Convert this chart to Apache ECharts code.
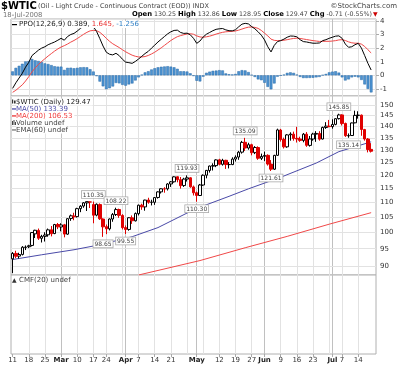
<!DOCTYPE html>
<html>
<head>
<meta charset="utf-8">
<script src="https://cdn.jsdelivr.net/npm/echarts@6.0.0/dist/echarts.min.js"></script>
<style>html,body{margin:0;padding:0;background:#fff;}#chart{width:400px;height:365px;}</style>
</head>
<body>
<div id="chart"></div>
<script>
const dates = ['2008-02-11','2008-02-12','2008-02-13','2008-02-14','2008-02-15','2008-02-18','2008-02-19','2008-02-20','2008-02-21','2008-02-22','2008-02-25','2008-02-26','2008-02-27','2008-02-28','2008-02-29',
'2008-03-03','2008-03-04','2008-03-05','2008-03-06','2008-03-07','2008-03-10','2008-03-11','2008-03-12','2008-03-13','2008-03-14','2008-03-17','2008-03-18','2008-03-19','2008-03-20','2008-03-24','2008-03-25','2008-03-26','2008-03-27','2008-03-28','2008-03-31',
'2008-04-01','2008-04-02','2008-04-03','2008-04-04','2008-04-07','2008-04-08','2008-04-09','2008-04-10','2008-04-11','2008-04-14','2008-04-15','2008-04-16','2008-04-17','2008-04-18','2008-04-21','2008-04-22','2008-04-23','2008-04-24','2008-04-25','2008-04-28','2008-04-29','2008-04-30',
'2008-05-01','2008-05-02','2008-05-05','2008-05-06','2008-05-07','2008-05-08','2008-05-09','2008-05-12','2008-05-13','2008-05-14','2008-05-15','2008-05-16','2008-05-19','2008-05-20','2008-05-21','2008-05-22','2008-05-23','2008-05-27','2008-05-28','2008-05-29','2008-05-30',
'2008-06-02','2008-06-03','2008-06-04','2008-06-05','2008-06-06','2008-06-09','2008-06-10','2008-06-11','2008-06-12','2008-06-13','2008-06-16','2008-06-17','2008-06-18','2008-06-19','2008-06-20','2008-06-23','2008-06-24','2008-06-25','2008-06-26','2008-06-27','2008-06-30',
'2008-07-01','2008-07-02','2008-07-03','2008-07-07','2008-07-08','2008-07-09','2008-07-10','2008-07-11','2008-07-14','2008-07-15','2008-07-16','2008-07-17','2008-07-18'];

const opens = [92.0,93.6,92.8,93.3,95.4,95.6,96.0,99.6,100.7,98.2,98.8,99.3,100.9,99.7,102.6,
101.8,102.5,99.5,104.6,105.4,105.2,107.9,108.8,109.9,110.2,109.3,105.7,109.3,104.4,101.9,101.2,104.4,105.9,107.6,105.6,
101.6,101.0,104.8,103.8,106.2,109.1,108.5,110.9,110.1,110.1,111.8,113.8,114.9,114.9,116.7,117.5,119.4,118.3,116.1,118.5,119.0,115.6,
113.5,112.5,116.3,120.0,121.8,123.5,123.7,126.0,124.2,125.8,124.1,124.1,126.3,127.1,129.1,133.2,130.8,132.2,128.9,131.0,126.6,
127.4,127.8,124.3,122.3,127.8,138.5,134.4,131.3,136.4,136.7,134.9,134.6,134.0,136.7,131.9,134.6,136.7,137.0,134.6,139.6,140.2,
140.0,141.0,143.6,145.3,141.4,136.0,136.1,141.7,145.1,145.2,138.7,134.6,130.25];
const highs = [94.0,94.4,93.8,95.8,96.0,96.2,100.1,100.9,101.3,99.3,100.1,101.3,102.1,102.8,103.1,
103.0,102.8,104.6,105.9,106.5,108.2,109.1,110.2,110.33,110.3,110.35,109.7,109.7,104.6,102.6,104.6,106.4,108.22,107.9,106.0,
102.3,105.0,105.6,106.6,109.3,109.6,111.0,111.7,111.0,111.9,114.0,115.1,115.5,117.0,117.8,119.6,119.5,119.3,119.0,119.93,119.2,116.1,
113.9,116.7,120.3,122.0,123.7,124.6,126.2,126.4,126.4,126.0,125.1,127.0,127.8,129.6,133.8,135.09,133.0,132.6,131.6,131.5,128.5,
129.3,128.2,125.9,128.0,139.1,139.0,135.2,136.7,137.5,137.8,139.9,135.6,137.2,137.6,135.9,137.3,138.0,138.0,140.0,142.0,143.0,
143.3,143.8,145.85,145.6,141.8,137.0,141.8,147.27,147.0,145.5,139.0,135.0,132.86];
const lows = [87.9,92.2,92.1,93.0,94.6,95.2,95.7,98.3,97.7,96.9,97.2,98.7,98.8,99.5,101.1,
100.4,98.5,99.3,103.8,104.0,104.9,106.7,108.2,107.1,108.1,103.0,105.3,104.1,98.65,99.5,100.7,103.5,105.4,104.8,101.0,
99.55,100.6,102.8,103.6,105.6,107.5,107.2,109.6,109.0,109.2,111.4,113.2,113.5,114.3,115.6,117.2,117.3,115.0,115.6,117.6,115.3,112.5,
110.3,112.3,116.0,118.8,121.0,121.8,123.1,123.8,123.7,122.4,122.6,123.9,125.3,126.0,128.5,129.6,130.1,127.8,128.3,126.0,125.9,
125.5,123.7,121.61,122.0,127.6,133.5,130.6,130.9,133.9,133.9,133.1,133.4,133.2,131.3,131.4,133.9,133.4,133.9,134.4,139.0,139.7,
139.1,140.6,143.2,140.5,135.5,135.14,135.9,141.5,143.6,136.0,133.9,129.0,128.95];
const closes = [93.59,92.78,93.27,95.46,95.50,95.90,100.01,100.74,98.23,98.81,99.23,100.88,99.64,102.59,101.84,
102.45,99.52,104.52,105.47,105.15,107.90,108.75,109.92,110.33,110.21,105.68,109.42,104.48,101.84,101.22,104.41,105.90,107.58,105.62,101.58,
100.98,104.83,103.83,106.23,109.09,108.50,110.87,110.11,110.14,111.76,113.79,114.93,114.86,116.69,117.48,119.37,118.30,116.06,118.52,119.00,115.63,113.46,
112.52,116.32,119.97,121.84,123.53,123.69,125.96,124.23,125.80,124.12,124.12,126.29,127.05,129.07,133.17,130.81,132.19,128.85,131.03,126.62,127.35,
127.76,124.31,122.30,127.79,138.54,134.35,131.31,136.38,136.74,134.86,134.61,134.01,136.68,131.93,134.62,136.74,137.00,134.55,139.64,140.21,140.00,
140.97,143.57,145.29,141.37,136.04,136.05,141.65,145.08,145.18,138.74,134.60,130.18,129.47];

const ma50Idx = [0,9,19,27,37,45,54,58,67,73,83,94,101,111];
const ma50Val = [91.8,93.2,94.7,96.2,98.7,101.6,106.4,108.4,112.2,114.9,119.2,124.7,129.3,133.39];
const ma200Idx = [39,58,72,85,98,111];
const ma200Val = [87.4,91.5,95.3,98.8,102.7,106.53];

const annDates = ['2008-03-17','2008-03-20','2008-03-27','2008-04-01','2008-04-28','2008-05-01','2008-05-22','2008-06-04','2008-07-03','2008-07-09'];
const annValues = [110.35,98.65,108.22,99.55,119.93,110.30,135.09,121.61,145.85,135.14];
const annSides = ['high','low','high','low','high','low','high','low','high','low'];

const ppo = [-0.96,-0.55,-0.2,0.15,0.6,0.95,1.45,1.65,1.85,2.0,2.1,2.25,2.35,2.45,2.58,
2.72,2.58,2.85,3.0,3.08,3.25,3.45,3.62,3.75,3.72,3.58,3.22,2.7,2.15,1.7,1.55,1.5,1.62,1.45,1.18,
0.97,0.93,0.88,1.02,1.2,1.4,1.6,1.76,2.0,2.22,2.45,2.65,2.85,3.05,3.2,3.3,3.32,3.15,3.08,3.1,2.98,2.72,
2.35,2.52,2.82,3.02,3.15,3.28,3.38,3.42,3.44,3.34,3.28,3.27,3.35,3.57,3.76,3.82,3.78,3.58,3.42,3.2,2.95,
2.6,2.1,1.72,2.2,2.48,2.55,2.66,2.8,2.89,2.88,2.83,2.62,2.48,2.45,2.4,2.36,2.36,2.38,2.55,2.62,2.72,
2.8,2.88,2.9,2.72,2.3,2.06,2.1,2.25,2.35,2.0,1.45,0.88,0.389];
const ppoSignal = [-1.25,-1.1,-0.9,-0.7,-0.42,-0.1,0.25,0.55,0.8,1.02,1.22,1.42,1.6,1.78,1.94,
2.08,2.18,2.3,2.44,2.56,2.7,2.86,3.02,3.16,3.27,3.3,3.28,3.16,2.96,2.72,2.5,2.32,2.18,2.04,1.88,
1.73,1.6,1.48,1.4,1.35,1.35,1.38,1.46,1.57,1.7,1.86,2.02,2.2,2.38,2.56,2.71,2.84,2.92,2.98,3.04,3.06,3.02,
2.9,2.82,2.8,2.83,2.88,2.95,3.03,3.1,3.16,3.2,3.22,3.23,3.26,3.32,3.4,3.48,3.54,3.55,3.52,3.45,3.3,
3.1,2.9,2.66,2.57,2.55,2.56,2.58,2.62,2.67,2.71,2.73,2.71,2.67,2.63,2.59,2.55,2.52,2.49,2.5,2.5,2.5,
2.52,2.55,2.6,2.62,2.56,2.46,2.39,2.36,2.36,2.29,2.12,1.88,1.645];
const ppoHist = [0.29,0.55,0.7,0.85,1.02,1.05,1.2,1.1,1.05,0.98,0.88,0.83,0.75,0.67,0.64,
0.64,0.4,0.55,0.56,0.52,0.55,0.59,0.6,0.59,0.45,0.28,-0.06,-0.46,-0.81,-1.02,-0.95,-0.82,-0.56,-0.59,-0.7,
-0.76,-0.67,-0.6,-0.38,-0.15,0.05,0.22,0.3,0.43,0.52,0.59,0.63,0.65,0.67,0.64,0.59,0.48,0.3,0.3,0.28,0.15,-0.05,
-0.4,-0.45,-0.1,0.19,0.27,0.33,0.35,0.38,0.36,0.14,0.08,0.06,0.1,0.3,0.38,0.36,0.24,0.03,-0.12,-0.3,-0.36,
-0.55,-0.85,-1.03,-0.6,-0.1,-0.02,0.05,0.18,0.22,0.18,0.05,-0.12,-0.2,-0.2,-0.19,-0.18,-0.15,-0.12,0.02,0.1,0.22,
0.27,0.3,0.2,-0.15,-0.38,-0.3,-0.15,-0.1,-0.15,-0.34,-0.67,-1.0,-1.256];

const priceTicks = [90,95,100,105,110,115,120,125,130,135,140,145,150];
const tickDates = ['2008-02-11','2008-02-18','2008-02-25','2008-03-03','2008-03-10','2008-03-17','2008-03-24','2008-04-01','2008-04-07','2008-04-14','2008-04-21','2008-05-01','2008-05-12','2008-05-19','2008-05-27','2008-06-02','2008-06-09','2008-06-16','2008-06-23','2008-07-01','2008-07-07','2008-07-14'];
const tickTexts = ['11','18','25','Mar','10','17','24','Apr','7','14','21','May','12','19','27','Jun','9','16','23','Jul','7','14'];
const weekLineDates = ['2008-02-18','2008-02-25','2008-03-10','2008-03-17','2008-03-24','2008-03-31','2008-04-07','2008-04-14','2008-04-21','2008-04-28','2008-05-05','2008-05-12','2008-05-19','2008-05-27','2008-06-09','2008-06-16','2008-06-23','2008-06-30','2008-07-07','2008-07-14'];
const monthLineDates = ['2008-03-03','2008-04-01','2008-05-01','2008-06-02','2008-07-01'];
const monthNames = ['Mar','Apr','May','Jun','Jul'];

// ---------- build ----------
const N = dates.length;
const cats = dates.concat(['']);
const weekSet = new Set(weekLineDates), monthSet = new Set(monthLineDates);
const labelMap = {}; tickDates.forEach((d, i) => labelMap[d] = tickTexts[i]);
const FONT = '"DejaVu Sans", Verdana, sans-serif';

const blackData = [], redData = [];
for (let i = 0; i < N; i++) {
  const item = [opens[i], closes[i], lows[i], highs[i]];
  const up = i === 0 || closes[i] >= closes[i - 1];
  blackData.push(up ? item : ['-', '-', '-', '-']);
  redData.push(up ? ['-', '-', '-', '-'] : item);
}
const ma50Data = ma50Idx.map((ix, k) => [ix, ma50Val[k]]);
const ma200Data = ma200Idx.map((ix, k) => [ix, ma200Val[k]]);

const annPoints = annDates.map((d, k) => ({
  coord: [d, annValues[k]], value: annValues[k],
  label: {position: annSides[k] === 'high' ? 'top' : 'bottom'}
}));

const L = 11, W = 365;
const grids = [
  {left: L, top: 19, width: W, height: 77},
  {left: L, top: 96, width: W, height: 179},
  {left: L, top: 275, width: W, height: 79}
].map(g => Object.assign(g, {show: true, borderColor: '#b0b0b0', borderWidth: 1, backgroundColor: '#fff'}));

function xAx(gridIndex, kind, labels) {
  return {
    type: 'category', gridIndex, data: cats, boundaryGap: true,
    axisLine: {show: false},
    axisTick: labels ? {show: true, alignWithLabel: true, length: 3, interval: (i, v) => v in labelMap, lineStyle: {color: '#aaa'}} : {show: false},
    axisLabel: labels ? {
      show: true, interval: (i, v) => v in labelMap, margin: 3, fontSize: 7, color: '#333', fontFamily: FONT,
      formatter: v => { const t = labelMap[v] || ''; return monthNames.includes(t) ? '{b|' + t + '}' : t; },
      rich: {b: {fontWeight: 'bold', fontSize: 7, color: '#222', fontFamily: FONT}}
    } : {show: false},
    splitLine: {show: true, alignWithLabel: true,
      interval: (i, v) => kind === 'week' ? weekSet.has(v) : monthSet.has(v),
      lineStyle: {color: kind === 'week' ? '#e2e2e2' : '#c0c0c0', width: 1}}
  };
}

const lastI = N - 1;
const chg = closes[lastI] - closes[lastI - 1];
const pct = chg / closes[lastI - 1] * 100;

const txt = (x, y, text, extra) => ({type: 'text', x, y, z: 100, silent: true,
  style: Object.assign({text, font: '7px ' + FONT, fill: '#333'}, extra || {})});
const rect = (x, y, w, h, fill) => ({type: 'rect', z: 101, silent: true, shape: {x, y, width: w, height: h}, style: {fill}});

const graphics = [
  txt(1, 1, '$WTIC', {font: 'bold 10px ' + FONT, fill: '#000'}),
  txt(38, 3, '(Oil - Light Crude - Continuous Contract (EOD)) INDX', {fill: '#444', font: '6.5px ' + FONT}),
  txt(397, 3, '©StockCharts.com', {fill: '#444', align: 'right'}),
  txt(3, 11.5, '18-Jul-2008', {fill: '#777', font: '6.8px ' + FONT}),
  {type: 'text', right: 28, top: 11, z: 100, silent: true, style: {
    text: '{b|Open} ' + opens[lastI].toFixed(2) + ' {b|High} ' + highs[lastI].toFixed(2) + ' {b|Low} ' + lows[lastI].toFixed(2) +
      ' {b|Close} ' + closes[lastI].toFixed(2) + ' {b|Chg} ' + chg.toFixed(2) + ' (' + pct.toFixed(2) + '%)',
    font: '6.3px ' + FONT, fill: '#444',
    rich: {b: {fontWeight: 'bold', fontSize: 6.8, fill: '#000', fontFamily: FONT}}
  }},
  txt(373, 11.5, '▼', {fill: '#cc0000', font: '6px ' + FONT}),
  // PPO legend
  rect(12, 24, 5, 1.2, '#000'),
  {type: 'text', x: 19, y: 21, z: 100, silent: true, style: {
    text: 'PPO(12,26,9) ' + ppo[lastI].toFixed(3) + ', {r|' + ppoSignal[lastI].toFixed(3) + ',} {bl|' + ppoHist[lastI].toFixed(3) + '}',
    font: '7px ' + FONT, fill: '#222', backgroundColor: '#fff',
    rich: {r: {fill: '#e83030', fontSize: 7, fontFamily: FONT}, bl: {fill: '#2f7fc4', fontSize: 7, fontFamily: FONT}}
  }},
  // price legend
  txt(16, 98.5, '$WTIC (Daily) ' + closes[lastI].toFixed(2), {fill: '#222', backgroundColor: '#fff', padding: [0, 2, 0, 0]}),
  rect(12, 99.5, 1.2, 4, '#333'), rect(14, 100.5, 1.6, 3, '#333'),
  txt(16, 105.5, 'MA(50) ' + ma50Val[ma50Val.length - 1].toFixed(2), {fill: '#4a4aa8', backgroundColor: '#fff', padding: [0, 2, 0, 0]}),
  rect(12, 108.3, 4, 1.3, '#4a4aa8'),
  txt(16, 112.5, 'MA(200) ' + ma200Val[ma200Val.length - 1].toFixed(2), {fill: '#f03a3a', backgroundColor: '#fff', padding: [0, 2, 0, 0]}),
  rect(12, 115.3, 4, 1.3, '#f03a3a'),
  txt(16, 119.5, 'Volume undef', {fill: '#444', backgroundColor: '#fff', padding: [0, 2, 0, 0]}),
  rect(12, 121, 1, 4, '#444'), rect(13.5, 120, 1, 5, '#444'), rect(15, 122, 1, 3, '#444'),
  txt(16, 126.5, 'EMA(60) undef', {fill: '#444', backgroundColor: '#fff', padding: [0, 2, 0, 0]}),
  rect(12, 129.3, 4, 1.3, '#777'),
  // CMF legend
  txt(12, 277, '▲', {fill: '#333', font: '6px ' + FONT}),
  txt(19, 277, 'CMF(20) undef', {fill: '#444'})
];

const option = {
  animation: false,
  backgroundColor: '#fff',
  grid: grids,
  xAxis: [xAx(0, 'week', false), xAx(0, 'month', false), xAx(1, 'week', false), xAx(1, 'month', false), xAx(2, 'week', true), xAx(2, 'month', false)],
  yAxis: [
    {type: 'value', gridIndex: 0, position: 'right', min: -1.52, max: 4.14, splitNumber: 5,
     axisLine: {show: false}, axisTick: {show: true, length: 3, lineStyle: {color: '#aaa'}},
     axisLabel: {fontSize: 7, color: '#333', margin: 4, fontFamily: FONT, showMinLabel: false, showMaxLabel: false},
     splitLine: {lineStyle: {color: '#e2e2e2'}}},
    {type: 'log', gridIndex: 1, position: 'right', min: 87.4, max: 154.3,
     axisLine: {show: false}, axisTick: {show: false}, axisLabel: {show: false}, splitLine: {show: false}},
    {type: 'value', gridIndex: 2, position: 'right', min: 0, max: 1,
     axisLine: {show: false}, axisTick: {show: false}, axisLabel: {show: false}, splitLine: {show: false}}
  ],
  series: [
    {type: 'bar', name: 'hist', xAxisIndex: 0, yAxisIndex: 0, data: ppoHist, barCategoryGap: '15%',
     itemStyle: {color: '#4c93d2', borderColor: '#2a6aa6', borderWidth: 0.5}, z: 2},
    {type: 'line', name: 'signal', xAxisIndex: 0, yAxisIndex: 0, data: ppoSignal, symbol: 'none',
     lineStyle: {color: '#f04848', width: 1}, z: 3},
    {type: 'line', name: 'ppo', xAxisIndex: 0, yAxisIndex: 0, data: ppo, symbol: 'none',
     lineStyle: {color: '#000', width: 1}, z: 4},
    {type: 'line', name: 'MA200', xAxisIndex: 2, yAxisIndex: 1, data: ma200Data, symbol: 'none',
     lineStyle: {color: '#f04848', width: 1}, z: 2,
     markLine: {silent: true, symbol: ['none', 'none'], z: 1, animation: false,
       lineStyle: {color: '#e2e2e2', width: 1, type: 'solid'},
       label: {show: true, position: 'end', distance: 4, fontSize: 7, color: '#333', fontFamily: FONT, formatter: p => String(p.value)},
       emphasis: {disabled: true},
       data: priceTicks.map(v => ({yAxis: v}))}},
    {type: 'line', name: 'MA50', xAxisIndex: 2, yAxisIndex: 1, data: ma50Data, symbol: 'none',
     lineStyle: {color: '#4a4aa8', width: 1}, z: 2},
    {type: 'candlestick', name: 'up', xAxisIndex: 2, yAxisIndex: 1, data: blackData, barWidth: 3, z: 3,
     itemStyle: {color: '#fff', color0: '#000', borderColor: '#000', borderColor0: '#000', borderWidth: 1},
     markPoint: {silent: true, symbol: 'triangle', symbolSize: [4, 3], symbolRotate: 0, itemStyle: {color: 'rgba(0,0,0,0)'}, z: 10, animation: false,
       label: {show: true, distance: 2, fontSize: 6, color: '#444', fontFamily: FONT,
         backgroundColor: '#fff', borderColor: '#a8a8a8', borderWidth: 0.8, padding: [1, 1, 0, 1],
         formatter: p => p.value.toFixed(2)},
       emphasis: {disabled: true},
       data: annPoints}},
    {type: 'candlestick', name: 'down', xAxisIndex: 2, yAxisIndex: 1, data: redData, barWidth: 3, z: 3,
     itemStyle: {color: '#fff', color0: '#e00000', borderColor: '#e00000', borderColor0: '#e00000', borderWidth: 1}}
  ],
  graphic: graphics
};

const chart = echarts.init(document.getElementById('chart'), null, {renderer: 'canvas'});
chart.setOption(option);
</script>
</body>
</html>
